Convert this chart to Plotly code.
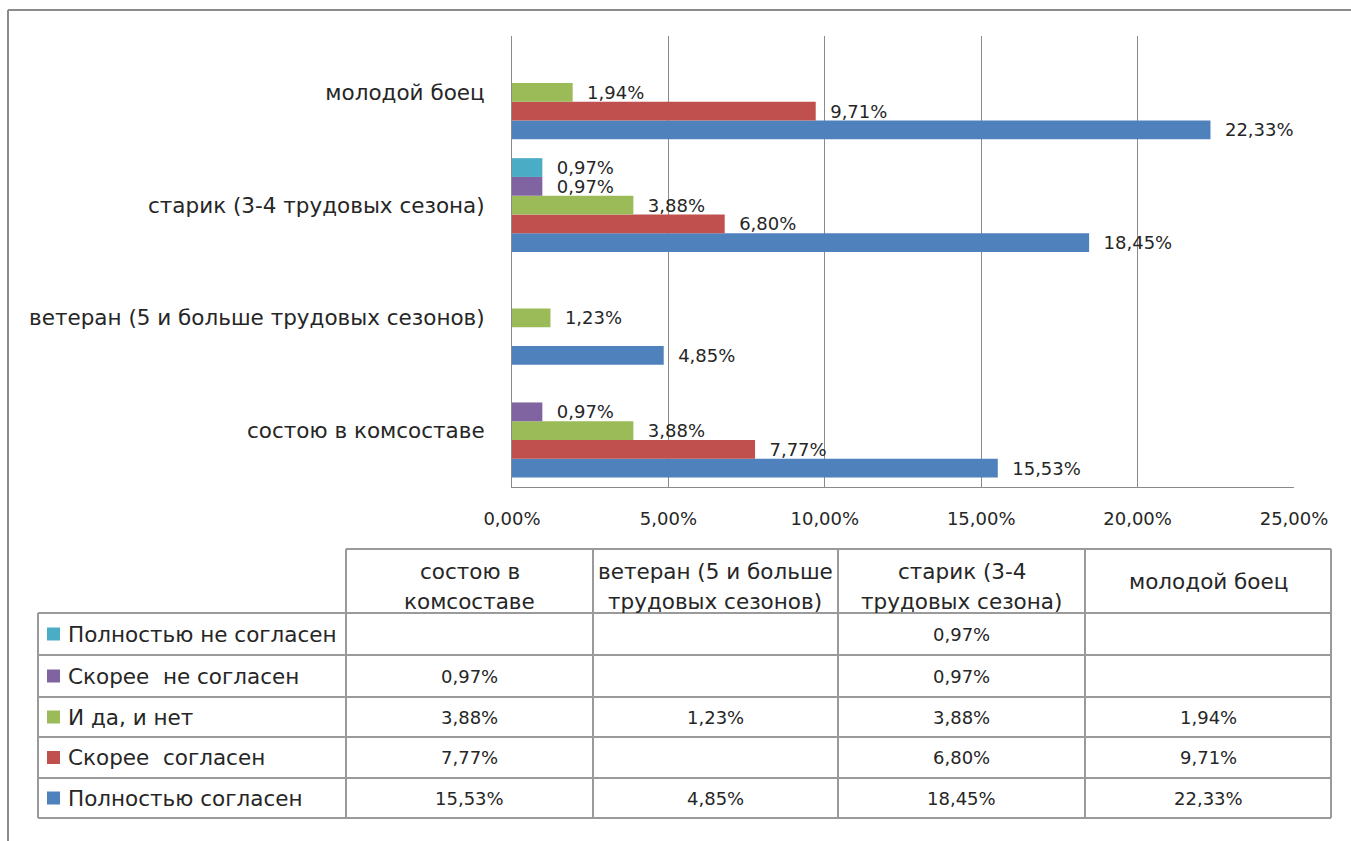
import plotly.graph_objects as go

# Respondent groups (bottom to top on the chart)
categories = [
    "состою в комсоставе",
    "ветеран (5 и больше трудовых сезонов)",
    "старик (3-4 трудовых сезона)",
    "молодой боец",
]
header_lines = [
    ["состою в", "комсоставе"],
    ["ветеран (5 и больше", "трудовых сезонов)"],
    ["старик (3-4", "трудовых сезона)"],
    ["молодой боец"],
]

# Answer shares, fractions of all respondents (None = no answers)
full_agree = [0.1553, 0.0485, 0.1845, 0.2233]
rather_agree = [0.0777, None, 0.0680, 0.0971]
yes_and_no = [0.0388, 0.0123, 0.0388, 0.0194]
rather_disagree = [0.0097, None, 0.0097, None]
full_disagree = [None, None, 0.0097, None]

series_names = [
    "Полностью согласен",
    "Скорее  согласен",
    "И да, и нет",
    "Скорее  не согласен",
    "Полностью не согласен",
]
series_values = [full_agree, rather_agree, yes_and_no, rather_disagree, full_disagree]
series_colors = ["#4F81BD", "#C0504D", "#9BBB59", "#8064A2", "#4BACC6"]

x_ticks = [0, 0.05, 0.10, 0.15, 0.20, 0.25]

W, H = 1351, 841
FONT = "DejaVu Sans"
TXT = "#262626"
GRID = "#8a8a8a"
WORD_SIZE = 21.5
NUM_SIZE = 18


def px(x):
    return x / W


def py(y):
    return 1 - y / H


fig = go.Figure()
for name, vals, col in zip(series_names, series_values, series_colors):
    fig.add_trace(go.Bar(
        y=categories, x=vals, name=name, orientation="h",
        marker=dict(color=col, line=dict(width=0)),
        texttemplate="\u00a0\u00a0%{x:.2%}", textposition="outside",
        constraintext="none", cliponaxis=False,
        textfont=dict(family=FONT, size=NUM_SIZE, color=TXT),
        hoverinfo="skip",
    ))

fig.update_layout(
    width=W, height=H, autosize=False,
    margin=dict(l=0, r=0, t=0, b=0, autoexpand=False),
    paper_bgcolor="white", plot_bgcolor="white",
    barmode="group", bargap=0.167, bargroupgap=0,
    showlegend=False, separators=", ",
    font=dict(family=FONT, size=NUM_SIZE, color=TXT),
    xaxis=dict(
        domain=[px(512), px(1294)], range=[0, 0.25], automargin=False,
        tickvals=x_ticks, tickformat=".2%",
        showgrid=True, gridcolor=GRID, gridwidth=1,
        showline=True, linecolor=GRID, linewidth=1,
        zeroline=False, ticks="", ticklabelstandoff=15,
        tickfont=dict(family=FONT, size=NUM_SIZE, color=TXT),
    ),
    yaxis=dict(
        domain=[py(487), py(36)], type="category", automargin=False,
        showgrid=False, showline=True, linecolor=GRID, linewidth=1,
        ticks="", ticklabelstandoff=22,
        tickfont=dict(family=FONT, size=WORD_SIZE, color=TXT),
    ),
)

shapes = []
annotations = []

# Outer chart frame (top and left edges)
shapes.append(dict(type="line", xref="paper", yref="paper",
                   x0=px(8), x1=px(1351), y0=py(10), y1=py(10),
                   line=dict(color="#8c8c8c", width=2)))
shapes.append(dict(type="line", xref="paper", yref="paper",
                   x0=px(8), x1=px(8), y0=py(10), y1=py(841),
                   line=dict(color="#8c8c8c", width=2)))

# Data table under the chart
col_x = [38, 346, 593, 838, 1085, 1331]
head_top, head_bot = 549, 613
row_y = [613, 655, 697, 737, 778, 818]
TL = dict(color="#9a9a9a", width=2)

# horizontal lines
shapes.append(dict(type="line", xref="paper", yref="paper",
                   x0=px(col_x[1]), x1=px(col_x[-1]), y0=py(head_top), y1=py(head_top), line=TL))
for y in row_y:
    shapes.append(dict(type="line", xref="paper", yref="paper",
                       x0=px(col_x[0]), x1=px(col_x[-1]), y0=py(y), y1=py(y), line=TL))
# vertical lines
shapes.append(dict(type="line", xref="paper", yref="paper",
                   x0=px(col_x[0]), x1=px(col_x[0]), y0=py(row_y[0]), y1=py(row_y[-1]), line=TL))
for x in col_x[1:]:
    shapes.append(dict(type="line", xref="paper", yref="paper",
                       x0=px(x), x1=px(x), y0=py(head_top), y1=py(row_y[-1]), line=TL))

# header cells
for j, lines in enumerate(header_lines):
    cx = (col_x[j + 1] + col_x[j + 2]) / 2
    if len(lines) == 1:
        ys = [(head_top + head_bot) / 2]
    else:
        ys = [571, 601]
    for t, yy in zip(lines, ys):
        annotations.append(dict(xref="paper", yref="paper", x=px(cx), y=py(yy),
                                text=t, showarrow=False, xanchor="center", yanchor="middle",
                                font=dict(family=FONT, size=WORD_SIZE, color=TXT)))

# body rows: top row is the last series
for r in range(5):
    s = 4 - r
    cy = (row_y[r] + row_y[r + 1]) / 2
    shapes.append(dict(type="rect", xref="paper", yref="paper",
                       x0=px(47), x1=px(60), y0=py(cy + 6.5), y1=py(cy - 6.5),
                       fillcolor=series_colors[s], line=dict(width=0)))
    annotations.append(dict(xref="paper", yref="paper", x=px(66), y=py(cy),
                            text=series_names[s], showarrow=False, xanchor="left", yanchor="middle",
                            font=dict(family=FONT, size=WORD_SIZE, color=TXT)))
    for j, v in enumerate(series_values[s]):
        if v is None:
            continue
        cx = (col_x[j + 1] + col_x[j + 2]) / 2
        annotations.append(dict(xref="paper", yref="paper", x=px(cx), y=py(cy),
                                text=f"{v * 100:.2f}%".replace(".", ","), showarrow=False,
                                xanchor="center", yanchor="middle",
                                font=dict(family=FONT, size=NUM_SIZE, color=TXT)))

fig.update_layout(shapes=shapes, annotations=annotations)
fig.write_html("out.html")
